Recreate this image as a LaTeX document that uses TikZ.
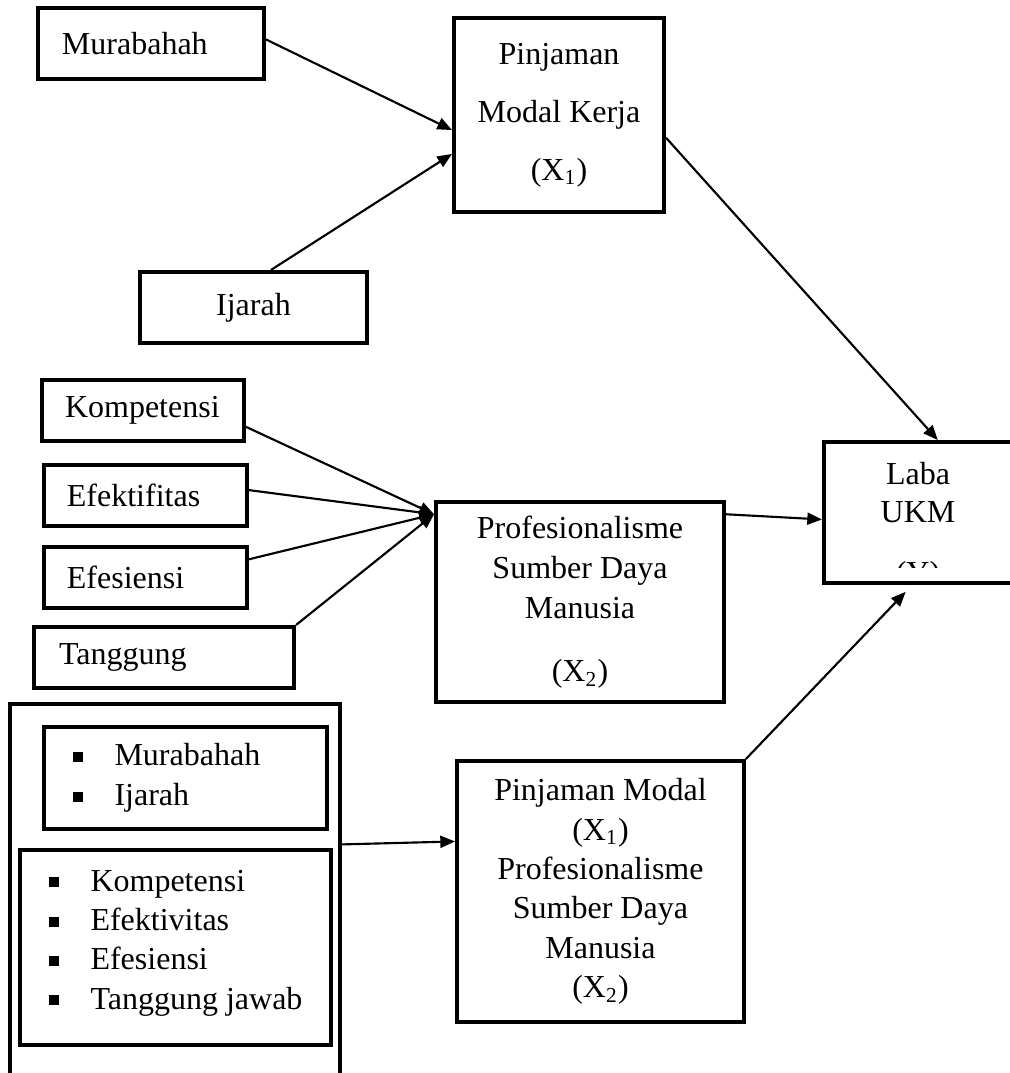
\documentclass[tikz,border=0pt]{standalone}
\usepackage{fontspec}
\setmainfont{Liberation Serif}
\usetikzlibrary{arrows.meta}

\tikzset{
  kotak/.style={draw, line width=1.5pt, rectangle, anchor=north west, inner sep=0pt,
    font=\fontsize{12}{15}\selectfont},
  teks/.style={inner sep=0pt, font=\fontsize{12}{15}\selectfont},
  panah/.style={-{Triangle[length=5.5pt,width=4.5pt]}, line width=0.8pt},
}
\newcommand{\butir}{\makebox[15.75pt][l]{\rule[1.4pt]{3.8pt}{3.8pt}}}

\begin{document}
\begin{tikzpicture}[x=0.375pt, y=-0.375pt]
            \useasboundingbox (0,0) rectangle (1010,1073);
            % Variabel X1
            \node[kotak, minimum width=84.75pt, minimum height=26.6pt, text width=66.75pt, inner xsep=9pt, align=left] (mura) at (36,6) {Murabahah};
            \node[kotak, minimum width=85.1pt, minimum height=26.6pt] (ijarah) at (138,270) {Ijarah};
            \node[kotak, minimum width=78.75pt, minimum height=72.75pt, align=center, font=\fontsize{12}{21.75}\selectfont] (pmk) at (452,16) {Pinjaman\\Modal Kerja\\(X\textsubscript{1})};
            % Variabel X2
            \node[kotak, minimum width=75.75pt, minimum height=22.9pt, text width=58.5pt, inner xsep=8.6pt, align=left] (komp) at (40,378) {Kompetensi};
            \node[kotak, minimum width=76.1pt, minimum height=22.9pt, text width=58.9pt, inner xsep=8.6pt, align=left] (efek) at (42,463) {Efektifitas};
            \node[kotak, minimum width=76.1pt, minimum height=22.9pt, text width=58.9pt, inner xsep=8.6pt, align=left] (efes) at (42,545) {Efesiensi};
            \node[kotak, minimum width=97.5pt, minimum height=22.9pt, text width=78.7pt, inner xsep=9.4pt, align=left] (tang) at (32,625) {Tanggung};
            \node[kotak, minimum width=108pt, minimum height=75pt, align=center] (prof) at (434,500) {Profesionalisme\\Sumber Daya\\Manusia\\[8.6pt](X\textsubscript{2})};
            % Variabel Y
            \node[kotak, minimum width=72.75pt, minimum height=52.9pt] (laba) at (822,440) {};
            \node[teks, align=center, font=\fontsize{12}{14.25}\selectfont] (labateks) at (918,493) {Laba\\UKM};
            \begin{scope}
                \clip (824,442) rectangle (1012,567);
                \node[teks] (labay) at (918,576) {(Y)};
            \end{scope}
            % Gabungan X1 dan X2
            \node[kotak, minimum width=123.75pt, minimum height=143.6pt] (gabung) at (8,702) {};
            \node[kotak, minimum width=106.1pt, minimum height=38.25pt] (daftar1) at (42,725) {};
            \node[teks, anchor=west, align=left] (isi1) at ([xshift=11.25pt]daftar1.west) {\butir Murabahah\\\butir Ijarah};
            \node[kotak, minimum width=116.6pt, minimum height=73.1pt] (daftar2) at (18,848) {};
            \node[teks, anchor=west, align=left, font=\fontsize{12}{14.75}\selectfont] (isi2) at ([xshift=11.25pt,yshift=1.7pt]daftar2.west) {\butir Kompetensi\\\butir Efektivitas\\\butir Efesiensi\\\butir Tanggung jawab};
            \node[kotak, minimum width=107.6pt, minimum height=97.9pt, align=center, font=\fontsize{12}{14.8}\selectfont] (pmpsdm) at (455,759) {Pinjaman Modal\\(X\textsubscript{1})\\Profesionalisme\\Sumber Daya\\Manusia\\(X\textsubscript{2})};
            % Panah
            \draw[panah] (mura.2) -- (pmk.188);
            \draw[panah] (ijarah.65) -- (pmk.200);
            \draw[panah] (pmk.-12) -- (laba.77);
            \foreach \asal/\sudut in {komp/-9, efek/3, efes/10} {
                    \draw[panah] (\asal.\sudut) -- (prof.149);
                }
            \draw[panah] (tang.north east) -- (prof.149);
            \draw[panah] (prof.31) -- (laba.184);
            \draw[panah] (gabung.17) -- (pmpsdm.161);
            \draw[panah, shorten >=3.5pt] (pmpsdm.north east) -- (laba.263);
        \end{tikzpicture}
\end{document}
